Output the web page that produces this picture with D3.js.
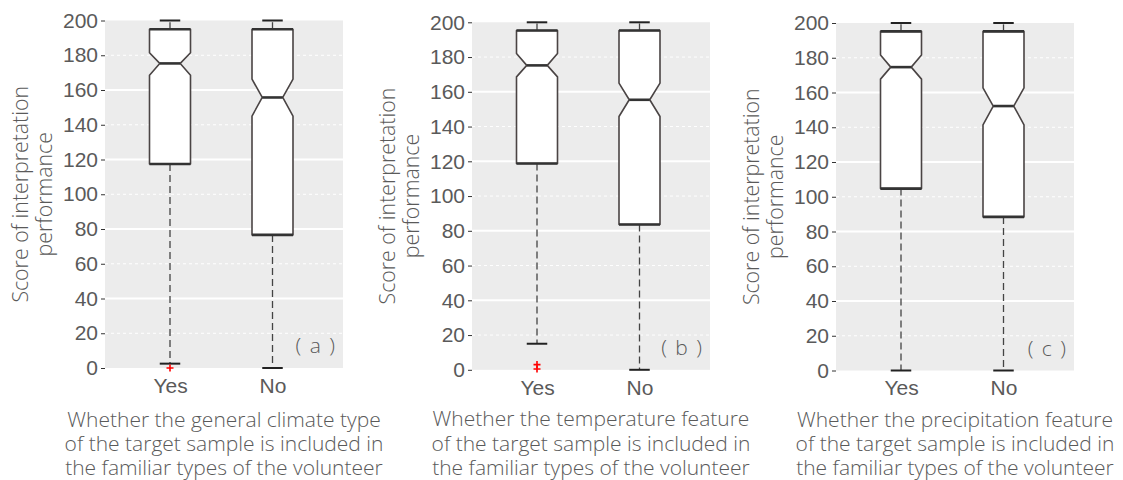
<!DOCTYPE html>
<html>
<head>
<meta charset="utf-8">
<script src="https://cdn.jsdelivr.net/npm/d3@7"></script>
<style>
  html, body { margin: 0; padding: 0; background: #fff; }
  svg { display: block; font-family: "Open Sans", "Noto Sans", sans-serif; }
</style>
</head>
<body>
<svg id="chart" width="1123" height="480"></svg>
<script>
// Categories and axis ticks
const categories = ["Yes", "No"];
const yTicks = [0, 20, 40, 60, 80, 100, 120, 140, 160, 180, 200];
const solidGrid = [40, 80, 120, 160];
const dashedGrid = [20, 60, 100, 140, 180];
const yTitle = ["Score of interpretation", "performance"];
const panelTags = ["( a )", "( b )", "( c )"];
const xTitles = [
  ["Whether the general climate type", "of the target sample is included in", "the familiar types of the volunteer"],
  ["Whether the temperature feature", "of the target sample is included in", "the familiar types of the volunteer"],
  ["Whether the precipitation feature", "of the target sample is included in", "the familiar types of the volunteer"]
];

// Box statistics per panel, [Yes, No]
const whiskerHigh = [[200, 200], [200, 200], [200, 200]];
const upperQuartile = [[195, 195], [195.3, 195.3], [195.2, 195.2]];
const notchHigh = [[181.4, 166.3], [182, 165], [181.6, 162.7]];
const median = [[175.3, 155.7], [175.2, 155.4], [174.6, 152.2]];
const notchLow = [[168.5, 145], [168.6, 145.8], [167.7, 141.4]];
const lowerQuartile = [[117.4, 76.6], [118.7, 83.6], [104.7, 88.4]];
const whiskerLow = [[2.5, 0], [15, 0], [0, 0]];
const outliers = [[[0], []], [[0.5, 3], []], [[], []]];

const svg = d3.select("#chart");
const textColor = "#5a5a5a";
const panelOrigins = [[105, 20.5], [472, 22.3], [836, 23]];
const W = 238, H = 347.5;
const boxW = 41;
const fs = "21px";

panelOrigins.forEach((origin, p) => {
  const g = svg.append("g").attr("transform", `translate(${origin[0]},${origin[1]})`);
  const y = d3.scaleLinear().domain([0, 200]).range([H, 0]);
  const x = d3.scalePoint().domain(categories).range([65, 167.5]);

  g.append("rect").attr("width", W).attr("height", H).attr("fill", "#ececec");

  g.selectAll(".gs").data(solidGrid).join("line")
    .attr("x1", 0).attr("x2", W)
    .attr("y1", d => y(d)).attr("y2", d => y(d))
    .attr("stroke", "#fff").attr("stroke-width", 2);
  g.selectAll(".gd").data(dashedGrid).join("line")
    .attr("x1", 0).attr("x2", W)
    .attr("y1", d => y(d)).attr("y2", d => y(d))
    .attr("stroke", "#fff").attr("stroke-width", 1)
    .attr("stroke-dasharray", "3,3");

  const stats = categories.map((c, i) => ({
    cat: c,
    wh: whiskerHigh[p][i], q3: upperQuartile[p][i], nh: notchHigh[p][i],
    med: median[p][i], nl: notchLow[p][i], q1: lowerQuartile[p][i],
    wl: whiskerLow[p][i], out: outliers[p][i]
  }));

  stats.forEach(s => {
    const cx = x(s.cat);
    const l = cx - boxW / 2, r = cx + boxW / 2, inset = boxW / 4;
    // whiskers
    g.append("line").attr("x1", cx).attr("x2", cx)
      .attr("y1", y(s.q3)).attr("y2", y(s.wh))
      .attr("stroke", "#444").attr("stroke-width", 1.3).attr("stroke-dasharray", "7,4");
    g.append("line").attr("x1", cx).attr("x2", cx)
      .attr("y1", y(s.q1)).attr("y2", y(s.wl))
      .attr("stroke", "#444").attr("stroke-width", 1.3).attr("stroke-dasharray", "7,4");
    // caps
    [s.wh, s.wl].forEach(v => {
      g.append("line").attr("x1", cx - boxW / 4).attr("x2", cx + boxW / 4)
        .attr("y1", y(v)).attr("y2", y(v))
        .attr("stroke", "#222").attr("stroke-width", 2);
    });
    // notched box
    const pts = [
      [l, y(s.q3)], [r, y(s.q3)], [r, y(s.nh)], [r - inset, y(s.med)], [r, y(s.nl)],
      [r, y(s.q1)], [l, y(s.q1)], [l, y(s.nl)], [l + inset, y(s.med)], [l, y(s.nh)]
    ];
    g.append("path").attr("d", d3.line()(pts) + "Z")
      .attr("fill", "#fff").attr("stroke", "#4a4444").attr("stroke-width", 1.6)
      .attr("stroke-linejoin", "round");
    [s.q3, s.q1].forEach(v => {
      g.append("line").attr("x1", l).attr("x2", r)
        .attr("y1", y(v)).attr("y2", y(v))
        .attr("stroke", "#333").attr("stroke-width", 2.6);
    });
    g.append("line").attr("x1", l + inset).attr("x2", r - inset)
      .attr("y1", y(s.med)).attr("y2", y(s.med))
      .attr("stroke", "#333").attr("stroke-width", 2.6);
    // outliers
    s.out.forEach(v => {
      g.append("path").attr("d", `M${cx - 3.5},${y(v)}H${cx + 3.5}M${cx},${y(v) - 3.5}V${y(v) + 3.5}`)
        .attr("stroke", "#f00").attr("stroke-width", 1.6).attr("fill", "none");
    });
  });

  // y axis
  const ya = g.append("g").call(d3.axisLeft(y).tickValues(yTicks).tickSize(4).tickPadding(3));
  ya.select(".domain").remove();
  ya.selectAll(".tick line").attr("stroke", "#333");
  ya.selectAll("text").attr("fill", textColor).style("font-size", fs).style("font-weight", 300);

  // x axis labels
  const xa = g.append("g").attr("transform", `translate(0,${H})`)
    .call(d3.axisBottom(x).tickSize(0).tickPadding(10));
  xa.select(".domain").remove();
  xa.selectAll("text").attr("fill", textColor).style("font-size", fs).style("font-weight", 300);

  // panel tag
  g.append("text").attr("x", W - 8).attr("y", H - 15).attr("text-anchor", "end")
    .attr("fill", textColor).style("font-size", fs).style("font-weight", 300)
    .style("word-spacing", "3px")
    .text(panelTags[p]);

  // y title
  const yt = g.append("text").attr("transform", `translate(-77,${H / 2}) rotate(-90)`)
    .attr("text-anchor", "middle").attr("fill", textColor)
    .style("font-size", "21.3px").style("font-weight", 300);
  yTitle.forEach((t, i) => yt.append("tspan").attr("x", 0).attr("y", i * 23.5).text(t));

  // x title
  const xt = g.append("text").attr("text-anchor", "middle").attr("fill", textColor)
    .style("font-size", "21px").style("font-weight", 300);
  xTitles[p].forEach((t, i) => xt.append("tspan").attr("x", W / 2).attr("y", 426.5 - origin[1] + i * 24.2).text(t));
});
</script>
</body>
</html>
